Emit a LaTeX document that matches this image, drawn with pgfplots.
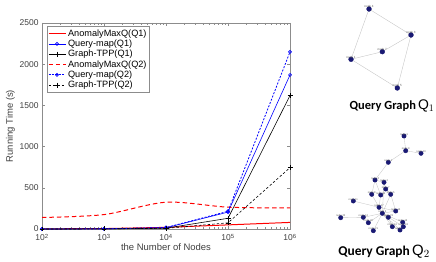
\documentclass[border=0pt]{standalone}
\usepackage{pgfplots}
\pgfplotsset{compat=1.18}
\usepackage{fontspec}
\setmainfont{Liberation Sans}
\newfontfamily\qfont{Carlito}
\definecolor{navy}{rgb}{0.10,0.10,0.45}
\definecolor{axgray}{rgb}{0.55,0.55,0.55}
\definecolor{txtgray}{rgb}{0.25,0.25,0.25}
\definecolor{mred}{rgb}{1,0,0}
\definecolor{mblue}{rgb}{0,0,1}
\begin{document}
\begin{tikzpicture}[x=1bp,y=1bp]
\useasboundingbox (0,0) rectangle (436,261);
\begin{axis}[
  at={(42bp,32bp)}, anchor=south west,
  scale only axis, width=248bp, height=206bp,
  xmode=log, xmin=1e2, xmax=1e6,
  ymin=0, ymax=2500,
  ytick={0,500,1000,1500,2000,2500},
  yticklabels={0,500,1000,1500,2000,2500},
  xtick={1e2,1e3,1e4,1e5,1e6},
  xticklabels={10\textsuperscript{2},10\textsuperscript{3},10\textsuperscript{4},10\textsuperscript{5},10\textsuperscript{6}},
  scaled y ticks=false,
  tick align=inside, tick pos=both,
  major tick length=3bp, minor tick length=1.6bp,
  axis line style={axgray, line width=0.5pt},
  every tick/.style={axgray, line width=0.4pt},
  ticklabel style={font=\fontsize{8.5}{9}\selectfont, text=txtgray},
  xticklabel style={yshift=-1.5bp},
  /pgf/number format/assume math mode=true,
  xlabel={the Number of Nodes},
  ylabel={Running Time (s)},
  label style={font=\fontsize{9.5}{10}\selectfont, text=txtgray},
  xlabel style={yshift=4bp},
  ylabel style={yshift=-2bp},
  legend cell align=left,
  legend style={at={(0.019,0.984)}, anchor=north west, draw=axgray, line width=0.4pt,
    font=\fontsize{9.2}{9.5}\selectfont, inner sep=1pt, row sep=-1.8pt,
    /tikz/every even column/.append style={column sep=1pt}},
]
\addplot[draw=mred, line width=1pt,
  legend image code/.code={\draw[draw=mred, line width=1.2pt] (0cm,0cm) -- (0.6cm,0cm);}]
  coordinates {(1e2,2) (1e3,5) (1e4,20) (1e5,50) (1e6,80)};
\addlegendentry{AnomalyMaxQ(Q1)}
\addplot[draw=mblue, line width=0.6pt, mark=o, mark size=1.5pt, mark options={draw=mblue}] coordinates {(1e2,0) (1e3,2) (1e4,15) (1e5,205) (1e6,1870)};
\addlegendentry{Query-map(Q1)}
\addplot[draw=black, line width=0.6pt, mark=+, mark size=2.5pt] coordinates {(1e2,0) (1e3,1) (1e4,10) (1e5,130) (1e6,1620)};
\addlegendentry{Graph-TPP(Q1)}
\addplot[draw=mred, line width=1pt, dash pattern=on 4.5pt off 3pt, smooth, tension=0.5] coordinates {(1e2,140) (1e3,175) (1e4,325) (1e5,265) (1e6,255)};
\addlegendentry{AnomalyMaxQ(Q2)}
\addplot[draw=mblue, line width=0.8pt, dash pattern=on 2pt off 1.5pt, mark=o, mark size=1.5pt, mark options={solid, draw=mblue}] coordinates {(1e2,0) (1e3,2) (1e4,18) (1e5,215) (1e6,2150)};
\addlegendentry{Query-map(Q2)}
\addplot[draw=black, line width=0.6pt, dash pattern=on 2.5pt off 2pt, mark=+, mark size=2.5pt, mark options={solid}] coordinates {(1e2,0) (1e3,1) (1e4,8) (1e5,75) (1e6,745)};
\addlegendentry{Graph-TPP(Q2)}
\end{axis}
\begin{axis}[
  at={(0,0)}, anchor=south west,
  scale only axis, width=436bp, height=261bp,
  xmin=0, xmax=436, ymin=0, ymax=261, y dir=reverse,
  hide axis, clip=false,
]
% Q1 edges
\addplot[gray!45, line width=0.4pt] coordinates {(351,59.3) (369,9) (411,35) (397.3,88) (351,59.3) (382.3,51.7) (411,35)};
% Q2 edges
\addplot[gray!45, line width=0.35pt, unbounded coords=jump] coordinates {
(404,136) (405.7,150.7) (421,153.3) (nan,nan)
(405.7,150.7) (388.3,162.3) (375,180) (384,182.3) (385.7,189) (390.7,194.3) (382.3,213.3) (nan,nan)
(375,180) (371.7,194.3) (379,207.3) (382.3,213.3) (nan,nan)
(375,180) (380.7,195) (379,207.3) (nan,nan)
(385.7,189) (380.7,195) (nan,nan)
(384,182.3) (382.3,213.3) (nan,nan)
(353.3,201) (379,207.3) (395.7,211) (382.3,213.3) (nan,nan)
(340.7,217.7) (363.3,217.3) (382.3,213.3) (368.3,222.7) (nan,nan)
(373.3,230.7) (382.3,213.3) (392.3,226.7) (400,230) (nan,nan)
(382.3,213.3) (402.7,222.3) (403.3,226.7) (382.3,213.3) (nan,nan)
(382.3,213.3) (388.3,217.3) (392.3,226.7) (nan,nan)
(390.7,194.3) (395.7,211) (nan,nan)
(371.7,194.3) (382.3,213.3) (400,230)
};
% Q1 nodes
\addplot[only marks, mark=*, mark size=2.4bp, navy, point meta=explicit symbolic,
  nodes near coords, every node near coord/.style={font=\fontsize{3}{3}\selectfont, text=gray!70!black, inner sep=0.8pt}]
 coordinates {(369,9) [node 4] (411,35) [node 3] (382.3,51.7) [node 7] (351,59.3) [node 1] (397.3,88) [node 5]};
% Q2 nodes
\addplot[only marks, mark=*, mark size=2.2bp, navy, point meta=explicit symbolic,
  nodes near coords, every node near coord/.style={font=\fontsize{2.6}{3}\selectfont, text=gray!70!black, inner sep=0.6pt}]
 coordinates {(404,136) [node 6] (405.7,150.7) [node 9] (421,153.3) [node 10] (388.3,162.3) [node 1]
 (375,180) [node 4] (384,182.3) [node 2] (385.7,189) [node 7] (371.7,194.3) [node 8] (380.7,195) [node 15]
 (390.7,194.3) [node 5] (353.3,201) [node 11] (379,207.3) [node 17] (395.7,211) [node 14] (363.3,217.3) [node 12]
 (382.3,213.3) [node 3] (340.7,217.7) [node 22] (368.3,222.7) [node 20] (373.3,230.7) [node 21]
 (402.7,222.3) [node 13] (392.3,226.7) [node 16] (400,230) [node 19] (403.3,226.7) [node 18] (388.3,217.3) [node 23]};
\node[anchor=center] at (axis cs:392,106) {\qfont\bfseries\fontsize{12.5}{13}\selectfont Query Graph\,\normalfont\fontsize{14}{14}\selectfont$\mathrm{Q}_1$};
\node[anchor=center] at (axis cs:384,252) {\qfont\bfseries\fontsize{13.5}{14}\selectfont Query Graph\,\normalfont\fontsize{15}{15}\selectfont$\mathrm{Q}_2$};
\end{axis}
\end{tikzpicture}
\end{document}
